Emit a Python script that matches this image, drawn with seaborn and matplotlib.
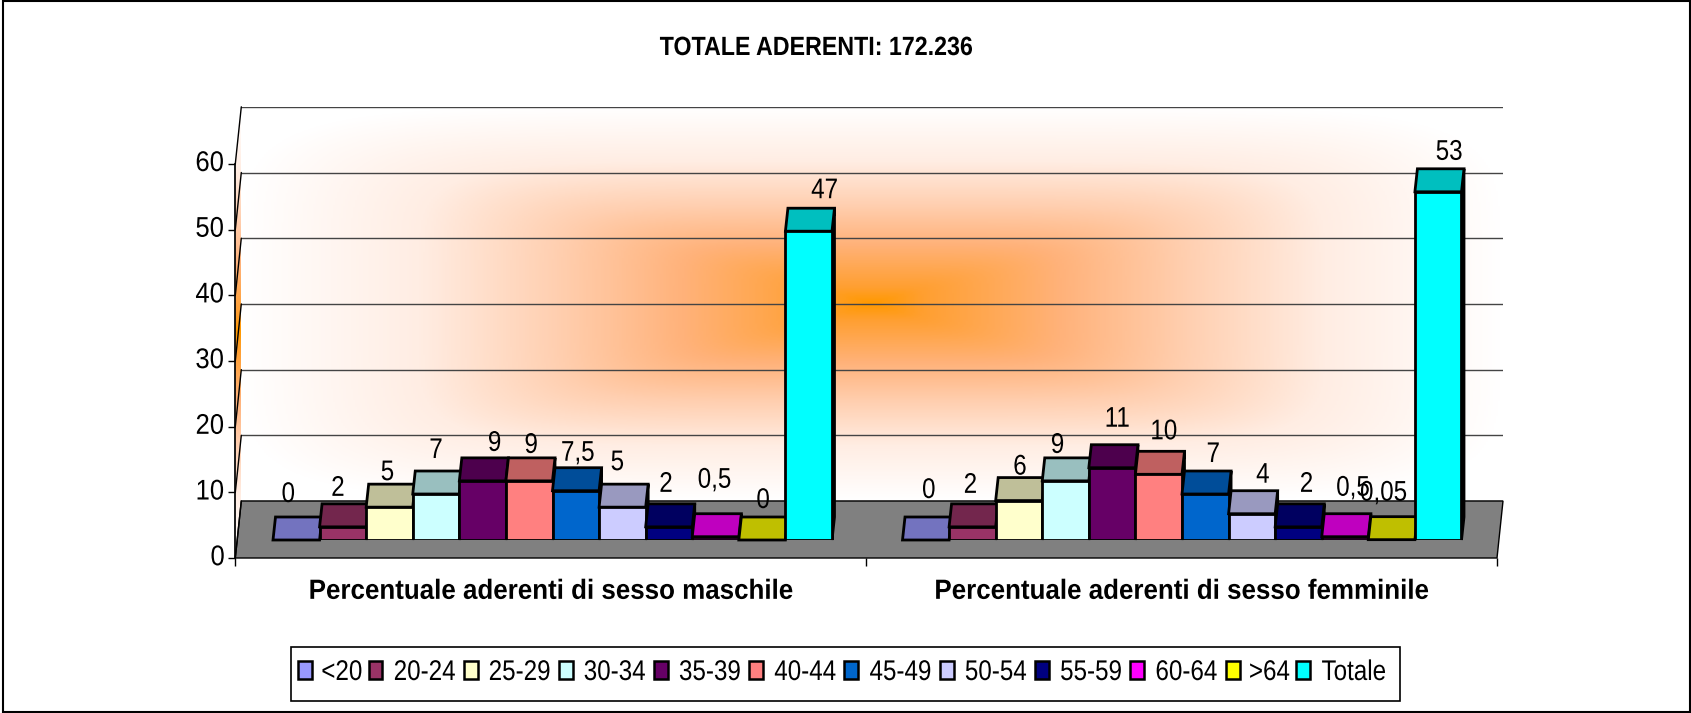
import numpy as np
import pandas as pd
import seaborn as sns
import matplotlib.pyplot as plt
from matplotlib.colors import LinearSegmentedColormap, to_rgb
from matplotlib.patches import Patch, Polygon, Rectangle
from matplotlib.patheffects import AbstractPathEffect
from matplotlib.transforms import Affine2D, ScaledTranslation

# Dati
gruppi = ['Percentuale aderenti di sesso maschile', 'Percentuale aderenti di sesso femminile']
classi = ['<20', '20-24', '25-29', '30-34', '35-39', '40-44', '45-49', '50-54', '55-59', '60-64', '>64', 'Totale']
maschi = [0, 2, 5, 7, 9, 9, 7.5, 5, 2, 0.5, 0, 47]
femmine = [0, 2, 6, 9, 11, 10, 7, 4, 2, 0.5, 0.05, 53]
colori = ['#9999FF', '#993366', '#FFFFCC', '#CCFFFF', '#660066', '#FF8080',
          '#0066CC', '#CCCCFF', '#000080', '#FF00FF', '#FFFF00', '#00FFFF']

# Spostamenti delle etichette (pixel)
nudge_x = [[-8, -5, -2, 0, 12, 2, 2, -5, -3, -1, 1, 16],
           [3, -2, 1, -8, 5, 5, 8, 11, 8, 8, -8, 11]]
nudge_y = [[22, 15, 11, 20, 14, 12, 14, 21, 19, 33, 16, 17],
           [26, 18, 10, 12, 25, 19, 16, 15, 19, 25, 23, 16]]

W, H = 1691, 713
Y_SCALE = 6.57      # pixel per unita
X0, X1, Y0 = 235.3, 1497, 558
BACK_DX, BACK_DY = 6, 57
BAR_DX, BAR_DY = 2.5, 23


class Stretto(AbstractPathEffect):
    # il font originale e' compresso in orizzontale
    def __init__(self, sx):
        super().__init__()
        self.sx = sx

    def draw_path(self, renderer, gc, tpath, affine, rgbFace=None):
        ext = tpath.get_extents()
        cx = (ext.x0 + ext.x1) / 2
        t = Affine2D().translate(-cx, 0).scale(self.sx, 1).translate(cx, 0)
        renderer.draw_path(gc, tpath, t + affine, rgbFace)


sns.set_theme(style='ticks', rc={'text.color': 'black', 'xtick.color': 'black', 'ytick.color': 'black',
                                 'axes.edgecolor': 'black', 'axes.labelcolor': 'black'})
plt.rcParams['font.family'] = ['Liberation Sans', 'DejaVu Sans']

df = pd.DataFrame({
    'gruppo': [gruppi[0]] * len(classi) + [gruppi[1]] * len(classi),
    'classe': classi * 2,
    'valore': maschi + femmine,
})

fig = plt.figure(figsize=(W / 100, H / 100), dpi=100, facecolor='white')


def box(left, right, base, height):
    return [left / W, 1 - base / H, (right - left) / W, height / H]


plot_h = 60 * Y_SCALE
ax_wall = fig.add_axes(box(X0 + BACK_DX, X1 + BACK_DX, Y0 - BACK_DY, plot_h), zorder=1)
ax_px = fig.add_axes([0, 0, 1, 1], zorder=2)
ax = fig.add_axes(box(X0, X1, Y0, plot_h), zorder=3)
ax_bar = fig.add_axes(box(237.75, 1496.75, 540, plot_h), zorder=4)

# Sfondo sfumato
grad = LinearSegmentedColormap.from_list('grad', [
    (0, '#FF9900'), (0.08, '#FF9F30'), (0.3, '#FFB27A'), (0.5, '#FFCFB0'),
    (0.72, '#FFEDE3'), (1, '#FFFFFF')])
u, v = np.meshgrid(np.linspace(-1, 1, 630), np.linspace(-1, 1, 400))
dist = np.clip((np.abs(u) ** 6 + np.abs(v) ** 6) ** (1 / 6), 0, 1)
ax_wall.imshow(dist, cmap=grad, vmin=0, vmax=1, aspect='auto',
               extent=(0, 1, 0, 60), origin='upper', zorder=0)
ax_wall.set_xlim(0, 1)
ax_wall.set_ylim(0, 60)
ax_wall.set_yticks(np.arange(0, 61, 10))
ax_wall.set_xticks([])
ax_wall.tick_params(left=False, labelleft=False)
ax_wall.grid(axis='y', color='#444444', lw=1)
for s in ax_wall.spines.values():
    s.set_visible(False)

# Parete laterale e pavimento
ax_px.set_xlim(0, W)
ax_px.set_ylim(H, 0)
ax_px.axis('off')
ax_px.patch.set_alpha(0)
top = Y0 - plot_h
side = Polygon([(X0, top), (X0 + BACK_DX, top - BACK_DY), (X0 + BACK_DX, Y0 - BACK_DY), (X0, Y0)],
               closed=True, fc='none', ec='none')
ax_px.add_patch(side)
im = ax_px.imshow(np.abs(np.linspace(-1, 1, 200))[:, None], cmap=grad, vmin=0, vmax=1, aspect='auto',
                  extent=(X0, X0 + BACK_DX, Y0, top - BACK_DY))
im.set_clip_path(side)
ax_px.set_xlim(0, W)
ax_px.set_ylim(H, 0)
ax_px.add_patch(Polygon([(X0, Y0), (X0 + BACK_DX, Y0 - BACK_DY), (X1 + BACK_DX, Y0 - BACK_DY), (X1, Y0)],
                        closed=True, fc='#808080', ec='black', lw=1))
for t in np.arange(0, 61, 10):
    yy = Y0 - t * Y_SCALE
    ax_px.plot([X0, X0 + BACK_DX], [yy, yy - BACK_DY], color='black', lw=1)

# Asse frontale
ax.patch.set_alpha(0)
ax.set_xlim(0, 2)
ax.set_ylim(0, 60)
ax.set_yticks(np.arange(0, 61, 10))
ax.set_xticks([0, 1, 2])
ax.set_xticklabels([])
ax.set_xticks([0.5, 1.5], labels=gruppi, minor=True, fontweight='bold', fontsize=20)
ax.tick_params(axis='x', which='major', length=6, width=1)
ax.tick_params(axis='x', which='minor', length=0, pad=15)
ax.tick_params(axis='y', length=5, width=1, pad=2)
su = ScaledTranslation(0, 2 / 72, fig.dpi_scale_trans)
for lab in ax.get_yticklabels():
    lab.set_fontsize(20.5)
    lab.set_path_effects([Stretto(0.9)])
    lab.set_transform(lab.get_transform() + su)
for lab in ax.get_xticklabels(minor=True):
    lab.set_path_effects([Stretto(0.934)])
sns.despine(ax=ax, top=True, right=True)
ax.spines['bottom'].set_visible(False)

# Barre
sns.barplot(data=df, x='gruppo', y='valore', hue='classe', order=gruppi, hue_order=classi,
            palette=colori, width=0.888, gap=0, saturation=1, edgecolor='black', linewidth=2,
            legend=False, ax=ax_bar)
ax_bar.set_xlim(-0.5, 1.5)
ax_bar.set_ylim(0, 60)
ax_bar.axis('off')
ax_bar.patch.set_alpha(0)
dx = BAR_DX / 629.5
dy = BAR_DY / Y_SCALE
valori = [maschi, femmine]
for i, cont in enumerate(ax_bar.containers):
    scuro = tuple(c * 0.75 for c in to_rgb(colori[i]))
    for g, bar in enumerate(cont):
        z = 5 + i * 3
        x0, x1 = bar.get_x(), bar.get_x() + bar.get_width()
        h = bar.get_height()
        bar.set_zorder(z + 2)
        ax_bar.add_patch(Polygon([(x1, 0), (x1 + dx, dy), (x1 + dx, h + dy), (x1, h)], closed=True,
                                 fc='black', ec='black', lw=2, zorder=z, clip_on=False))
        ax_bar.add_patch(Polygon([(x0, h), (x1, h), (x1 + dx, h + dy), (x0 + dx, h + dy)], closed=True,
                                 fc=scuro, ec='black', lw=2, zorder=z + 1, clip_on=False))
        lab = f'{valori[g][i]:g}'.replace('.', ',')
        txt = ax_bar.annotate(lab, ((x0 + x1) / 2, h + dy), xytext=(nudge_x[g][i] * 0.72, nudge_y[g][i] * 0.72),
                              textcoords='offset points', ha='center', va='center', fontsize=20.5,
                              color='black', zorder=100, annotation_clip=False)
        txt.set_path_effects([Stretto(0.85)])

# Titolo, legenda, cornice
tit = fig.text(816 / W, 1 - 48 / H, 'TOTALE ADERENTI: 172.236', ha='center', va='center',
               fontsize=19, fontweight='bold', color='black', zorder=10)
tit.set_path_effects([Stretto(0.88)])
fig.add_artist(Rectangle((291 / W, 1 - 701 / H), 1109 / W, 54 / H, transform=fig.transFigure,
                         fc='white', ec='black', lw=1.2, zorder=9))
handles = [Patch(fc=c, ec='black', lw=1.8) for c in colori]
leg = fig.legend(handles, classi, ncols=12, loc='center', mode='expand',
                 bbox_to_anchor=(298 / W, 1 - 700 / H, 1094 / W, 54 / H), frameon=False,
                 fontsize=20.5, handlelength=0.49, handleheight=0.58, handletextpad=0.2,
                 columnspacing=0.15, borderpad=0, borderaxespad=0)
leg.set_zorder(10)
for lab in leg.get_texts():
    lab.set_path_effects([Stretto(0.85)])
fig.add_artist(Rectangle((3 / W, 1 / H), (W - 4) / W, (H - 2) / H, transform=fig.transFigure,
                         fc='none', ec='black', lw=1.5))

fig.savefig('out.png', dpi=100)
